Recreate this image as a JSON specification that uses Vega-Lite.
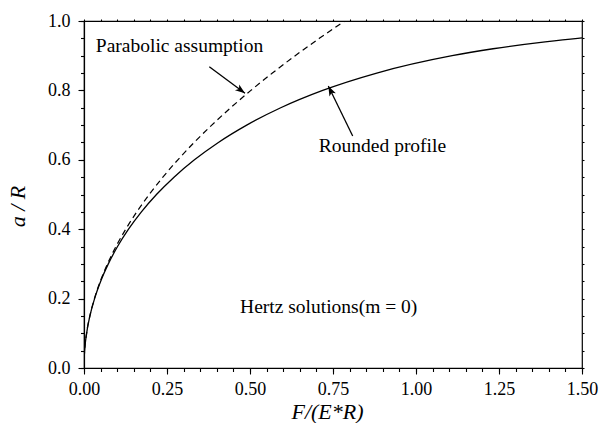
{
  "$schema": "https://vega.github.io/schema/vega-lite/v6.json",
  "width": 498,
  "height": 347,
  "autosize": {"type": "none"},
  "padding": {"left": 84, "top": 21, "right": 21, "bottom": 55},
  "background": "white",
  "config": {
    "view": {"stroke": "black", "strokeWidth": 1.2},
    "font": "Liberation Serif",
    "axis": {
      "labelFont": "Liberation Serif",
      "titleFont": "Liberation Serif",
      "labelColor": "black",
      "titleColor": "black",
      "domainColor": "black",
      "tickColor": "black",
      "grid": false,
      "labelFontSize": 18,
      "titleFontSize": 22,
      "titleFontWeight": "normal",
      "titleFontStyle": "italic",
      "tickWidth": 1.1,
      "domainWidth": 1.2
    }
  },
  "datasets": {
    "curves": [
      {"series": "Rounded profile", "F": 0, "a": 0},
      {"series": "Rounded profile", "F": 0.000491, "a": 0.025},
      {"series": "Rounded profile", "F": 0.001965, "a": 0.05},
      {"series": "Rounded profile", "F": 0.007884, "a": 0.1},
      {"series": "Rounded profile", "F": 0.017822, "a": 0.15},
      {"series": "Rounded profile", "F": 0.031899, "a": 0.2},
      {"series": "Rounded profile", "F": 0.050284, "a": 0.25},
      {"series": "Rounded profile", "F": 0.073215, "a": 0.3},
      {"series": "Rounded profile", "F": 0.101003, "a": 0.35},
      {"series": "Rounded profile", "F": 0.134059, "a": 0.4},
      {"series": "Rounded profile", "F": 0.172919, "a": 0.45},
      {"series": "Rounded profile", "F": 0.218289, "a": 0.5},
      {"series": "Rounded profile", "F": 0.271111, "a": 0.55},
      {"series": "Rounded profile", "F": 0.33267, "a": 0.6},
      {"series": "Rounded profile", "F": 0.404767, "a": 0.65},
      {"series": "Rounded profile", "F": 0.49003, "a": 0.7},
      {"series": "Rounded profile", "F": 0.592518, "a": 0.75},
      {"series": "Rounded profile", "F": 0.718953, "a": 0.8},
      {"series": "Rounded profile", "F": 0.881827, "a": 0.85},
      {"series": "Rounded profile", "F": 1.108851, "a": 0.9},
      {"series": "Rounded profile", "F": 1.232048, "a": 0.92},
      {"series": "Rounded profile", "F": 1.388941, "a": 0.94},
      {"series": "Rounded profile", "F": 1.487288, "a": 0.95},
      {"series": "Rounded profile", "F": 1.5, "a": 0.9511},
      {"series": "Parabolic assumption", "F": 0, "a": 0},
      {"series": "Parabolic assumption", "F": 0.000491, "a": 0.025},
      {"series": "Parabolic assumption", "F": 0.001963, "a": 0.05},
      {"series": "Parabolic assumption", "F": 0.007854, "a": 0.1},
      {"series": "Parabolic assumption", "F": 0.017671, "a": 0.15},
      {"series": "Parabolic assumption", "F": 0.031416, "a": 0.2},
      {"series": "Parabolic assumption", "F": 0.049087, "a": 0.25},
      {"series": "Parabolic assumption", "F": 0.070686, "a": 0.3},
      {"series": "Parabolic assumption", "F": 0.096211, "a": 0.35},
      {"series": "Parabolic assumption", "F": 0.125664, "a": 0.4},
      {"series": "Parabolic assumption", "F": 0.159043, "a": 0.45},
      {"series": "Parabolic assumption", "F": 0.19635, "a": 0.5},
      {"series": "Parabolic assumption", "F": 0.237583, "a": 0.55},
      {"series": "Parabolic assumption", "F": 0.282743, "a": 0.6},
      {"series": "Parabolic assumption", "F": 0.331831, "a": 0.65},
      {"series": "Parabolic assumption", "F": 0.384845, "a": 0.7},
      {"series": "Parabolic assumption", "F": 0.441786, "a": 0.75},
      {"series": "Parabolic assumption", "F": 0.502655, "a": 0.8},
      {"series": "Parabolic assumption", "F": 0.56745, "a": 0.85},
      {"series": "Parabolic assumption", "F": 0.636173, "a": 0.9},
      {"series": "Parabolic assumption", "F": 0.708822, "a": 0.95},
      {"series": "Parabolic assumption", "F": 0.785398, "a": 1.0}
    ],
    "notes": [
      {"label": "Parabolic assumption", "F": 0.2877, "a": 0.928},
      {"label": "Rounded profile", "F": 0.899, "a": 0.6406},
      {"label": "Hertz solutions(m = 0)", "F": 0.737, "a": 0.1767}
    ],
    "arrows": [
      {"arrow": "Parabolic assumption", "F": 0.3774, "a": 0.8683, "F2": 0.485, "a2": 0.7916},
      {"arrow": "Rounded profile", "F": 0.8093, "a": 0.6686, "F2": 0.7359, "a2": 0.8127}
    ]
  },
  "resolve": {"axis": {"x": "independent", "y": "independent"}},
  "layer": [
    {
      "data": {"name": "curves"},
      "transform": [{"filter": "datum.series === 'Rounded profile'"}],
      "mark": {"type": "line", "color": "black", "strokeWidth": 1.3, "clip": true, "interpolate": "monotone"},
      "encoding": {
        "x": {
          "field": "F", "type": "quantitative",
          "scale": {"domain": [0, 1.5], "nice": false, "zero": false},
          "axis": {
            "orient": "bottom", "title": "F/(E*R)",
            "values": [0, 0.25, 0.5, 0.75, 1.0, 1.25, 1.5],
            "format": ".2f", "tickSize": 6, "labelPadding": 6,
            "titleX": 243, "titleY": 55, "titleBaseline": "bottom", "titleAlign": "center",
            "labelFlush": false
          }
        },
        "y": {
          "field": "a", "type": "quantitative",
          "scale": {"domain": [0, 1], "nice": false, "zero": false},
          "axis": {
            "orient": "left", "title": "a / R",
            "values": [0, 0.2, 0.4, 0.6, 0.8, 1.0],
            "format": ".1f", "tickSize": 6, "labelPadding": 8, "titlePadding": 18,
            "titleY": 185, "labelFlush": false
          }
        }
      }
    },
    {
      "data": {"name": "curves"},
      "transform": [{"filter": "datum.series === 'Parabolic assumption'"}],
      "mark": {"type": "line", "color": "black", "strokeWidth": 1.2, "strokeDash": [6, 4], "clip": true, "interpolate": "monotone"},
      "encoding": {
        "x": {
          "field": "F", "type": "quantitative",
          "axis": {
            "orient": "bottom", "title": null, "labels": false, "domain": false,
            "values": [0, 0.05, 0.1, 0.15, 0.2, 0.25, 0.3, 0.35, 0.4, 0.45, 0.5, 0.55, 0.6, 0.65, 0.7, 0.75, 0.8, 0.85, 0.9, 0.95, 1.0, 1.05, 1.1, 1.15, 1.2, 1.25, 1.3, 1.35, 1.4, 1.45, 1.5],
            "tickSize": 3.5
          }
        },
        "y": {
          "field": "a", "type": "quantitative",
          "axis": {
            "orient": "left", "title": null, "labels": false, "domain": false,
            "values": [0, 0.05, 0.1, 0.15, 0.2, 0.25, 0.3, 0.35, 0.4, 0.45, 0.5, 0.55, 0.6, 0.65, 0.7, 0.75, 0.8, 0.85, 0.9, 0.95, 1.0],
            "tickSize": 3.5
          }
        }
      }
    },
    {
      "data": {"name": "notes"},
      "mark": {"type": "text", "color": "black", "fontSize": 19.5, "align": "center", "baseline": "middle"},
      "encoding": {
        "x": {
          "field": "F", "type": "quantitative",
          "axis": {
            "orient": "top", "title": null, "labels": false, "domain": false,
            "values": [0, 0.05, 0.1, 0.15, 0.2, 0.25, 0.3, 0.35, 0.4, 0.45, 0.5, 0.55, 0.6, 0.65, 0.7, 0.75, 0.8, 0.85, 0.9, 0.95, 1.0, 1.05, 1.1, 1.15, 1.2, 1.25, 1.3, 1.35, 1.4, 1.45, 1.5],
            "tickSize": 2
          }
        },
        "y": {
          "field": "a", "type": "quantitative",
          "axis": {
            "orient": "right", "title": null, "labels": false, "domain": false,
            "values": [0, 0.05, 0.1, 0.15, 0.2, 0.25, 0.3, 0.35, 0.4, 0.45, 0.5, 0.55, 0.6, 0.65, 0.7, 0.75, 0.8, 0.85, 0.9, 0.95, 1.0],
            "tickSize": 2
          }
        },
        "text": {"field": "label", "type": "nominal"}
      }
    },
    {
      "data": {"name": "arrows"},
      "mark": {"type": "rule", "color": "black", "strokeWidth": 1.3},
      "encoding": {
        "x": {"field": "F", "type": "quantitative", "axis": null},
        "y": {"field": "a", "type": "quantitative", "axis": null},
        "x2": {"field": "F2"},
        "y2": {"field": "a2"}
      }
    },
    {
      "data": {"name": "arrows"},
      "transform": [{"filter": "datum.arrow === 'Parabolic assumption'"}],
      "mark": {"type": "point", "filled": true, "color": "black", "opacity": 1, "size": 200, "angle": 126.7, "shape": "M0,0 L-0.5,1.4 L0,1.05 L0.5,1.4 Z"},
      "encoding": {
        "x": {"field": "F2", "type": "quantitative", "axis": null},
        "y": {"field": "a2", "type": "quantitative", "axis": null}
      }
    },
    {
      "data": {"name": "arrows"},
      "transform": [{"filter": "datum.arrow === 'Rounded profile'"}],
      "mark": {"type": "point", "filled": true, "color": "black", "opacity": 1, "size": 200, "angle": 334, "shape": "M0,0 L-0.5,1.4 L0,1.05 L0.5,1.4 Z"},
      "encoding": {
        "x": {"field": "F2", "type": "quantitative", "axis": null},
        "y": {"field": "a2", "type": "quantitative", "axis": null}
      }
    }
  ]
}
